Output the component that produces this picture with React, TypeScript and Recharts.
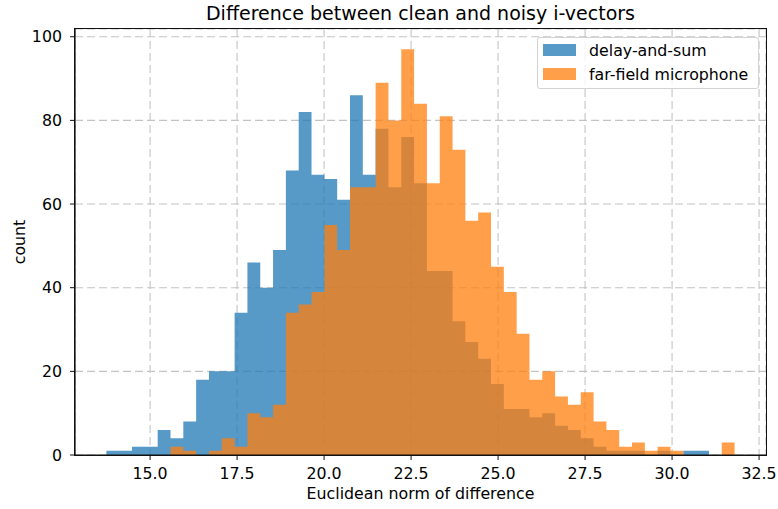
import React from "react";
import {
  ComposedChart,
  Area,
  XAxis,
  YAxis,
  CartesianGrid,
} from "recharts";

// Shared histogram binning (49 equal-width bins)
const BIN_START = 13.745;
const BIN_WIDTH = 0.3684;

const DELAY_AND_SUM = [
  1, 1, 2, 2, 6, 4, 8, 18, 20, 20, 34, 46, 40, 49, 68, 82, 67, 66, 61, 86, 67, 78, 64, 76, 65,
  44, 44, 32, 27, 23, 17, 11, 11, 9, 10, 7, 6, 4, 2, 1, 1, 1, 0, 1, 0, 1, 1, 0, 0,
];

const FAR_FIELD = [
  0, 0, 0, 0, 0, 2, 1, 0, 1, 4, 2, 10, 9, 12, 34, 36, 39, 55, 49, 64, 64, 89, 80, 97, 84,
  65, 81, 73, 56, 58, 45, 39, 29, 18, 20, 14, 12, 15, 8, 6, 2, 3, 1, 2, 1, 0, 0, 0, 3,
];

const X_TICKS = [15, 17.5, 20, 22.5, 25, 27.5, 30, 32.5];
const Y_TICKS = [0, 20, 40, 60, 80, 100];

const BLUE = "#1f77b4";
const ORANGE = "#ff7f0e";
const FONT = "'DejaVu Sans', sans-serif";

// one point per bin edge; stepAfter holds each count across its bin
const histData = Array.from({ length: DELAY_AND_SUM.length + 1 }, (_, i) => ({
  x: BIN_START + i * BIN_WIDTH,
  das: i < DELAY_AND_SUM.length ? DELAY_AND_SUM[i] : 0,
  far: i < FAR_FIELD.length ? FAR_FIELD[i] : 0,
}));

const lo = BIN_START;
const hi = BIN_START + DELAY_AND_SUM.length * BIN_WIDTH;
const pad = (hi - lo) * 0.05;
const X_DOMAIN = [lo - pad, hi + pad];
const Y_DOMAIN = [0, 97 * 1.05];

// plot box in page pixels (margins below must agree)
const PLOT = { left: 75, top: 29, right: 766, bottom: 455 };

const tickStyle = { fill: "#000", fontSize: 15.8, fontFamily: FONT };
const spine = { stroke: "#111", strokeWidth: 1.2 };

function LegendBox() {
  const row = (color: string, label: string, top: number) => (
    <div
      style={{
        position: "absolute",
        left: 5,
        top,
        display: "flex",
        alignItems: "center",
        height: 12,
      }}
    >
      <span
        style={{
          display: "inline-block",
          width: 33,
          height: 12,
          background: color,
          opacity: 0.75,
        }}
      />
      <span style={{ marginLeft: 13, fontSize: 15.8, color: "#000", whiteSpace: "nowrap" }}>
        {label}
      </span>
    </div>
  );
  return (
    <div
      style={{
        position: "absolute",
        left: 537,
        top: 37,
        width: 220,
        height: 50,
        border: "1px solid #d3d3d3",
        borderRadius: 3,
        background: "rgba(255,255,255,0.8)",
        fontFamily: FONT,
      }}
    >
      {row(BLUE, "delay-and-sum", 6)}
      {row(ORANGE, "far-field microphone", 30)}
    </div>
  );
}

export default function App() {
  return (
    <div style={{ position: "relative", width: 778, height: 509, background: "#fff", fontFamily: FONT }}>
      <style>{"body{margin:0}"}</style>
      <ComposedChart
        width={778}
        height={509}
        data={histData}
        margin={{ top: PLOT.top, right: 11, bottom: 24, left: 15 }}
      >
        <CartesianGrid stroke="#c4c4c4" strokeWidth={1.1} strokeDasharray="8 4" />
        <XAxis
          dataKey="x"
          type="number"
          domain={X_DOMAIN}
          ticks={X_TICKS}
          allowDataOverflow
          tickFormatter={(v: number) => v.toFixed(1)}
          tick={tickStyle}
          tickSize={5}
          tickMargin={8}
          height={30}
          axisLine={spine}
          tickLine={{ stroke: "#111" }}
        />
        <YAxis
          type="number"
          domain={Y_DOMAIN}
          ticks={Y_TICKS}
          allowDataOverflow
          tick={tickStyle}
          tickSize={5}
          tickMargin={8}
          width={60}
          axisLine={spine}
          tickLine={{ stroke: "#111" }}
        />
        <YAxis
          yAxisId="right"
          orientation="right"
          type="number"
          domain={Y_DOMAIN}
          tick={false}
          tickLine={false}
          width={1}
          axisLine={false}
        />
        <Area
          type="stepAfter"
          dataKey="das"
          name="delay-and-sum"
          fill={BLUE}
          fillOpacity={0.75}
          stroke="none"
          dot={false}
          activeDot={false}
          isAnimationActive={false}
        />
        <Area
          type="stepAfter"
          dataKey="far"
          name="far-field microphone"
          fill={ORANGE}
          fillOpacity={0.75}
          stroke="none"
          dot={false}
          activeDot={false}
          isAnimationActive={false}
        />
      </ComposedChart>

      {/* axes frame (all four spines) */}
      <div
        style={{
          position: "absolute",
          left: PLOT.left - 0.6,
          top: PLOT.top - 0.6,
          width: PLOT.right - PLOT.left + 1.2,
          height: PLOT.bottom - PLOT.top + 1.2,
          border: "1.2px solid #111",
          boxSizing: "border-box",
          pointerEvents: "none",
        }}
      />

      <div
        style={{
          position: "absolute",
          left: 0,
          width: 841,
          top: 2,
          textAlign: "center",
          fontSize: 19,
          color: "#000",
          whiteSpace: "nowrap",
        }}
      >
        Difference between clean and noisy i-vectors
      </div>
      <div
        style={{
          position: "absolute",
          left: 0,
          width: 841,
          top: 484,
          textAlign: "center",
          fontSize: 15.8,
          color: "#000",
          whiteSpace: "nowrap",
        }}
      >
        Euclidean norm of difference
      </div>
      <div
        style={{
          position: "absolute",
          left: 19,
          top: 242,
          transform: "translate(-50%, -50%) rotate(-90deg)",
          fontSize: 15.8,
          color: "#000",
          whiteSpace: "nowrap",
        }}
      >
        count
      </div>
      <LegendBox />
    </div>
  );
}
